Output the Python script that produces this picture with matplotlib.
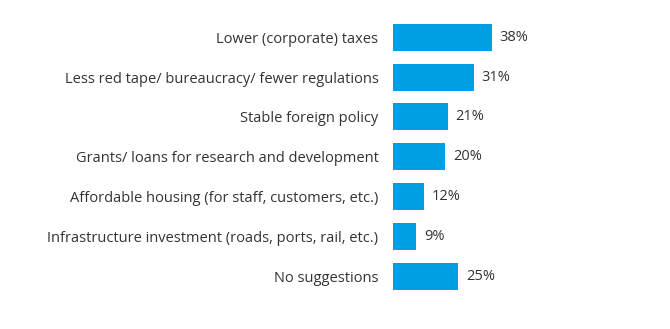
import matplotlib.pyplot as plt

# survey data
labels = ['Lower (corporate) taxes',
          'Less red tape/ bureaucracy/ fewer regulations',
          'Stable foreign policy',
          'Grants/ loans for research and development',
          'Affordable housing (for staff, customers, etc.)',
          'Infrastructure investment (roads, ports, rail, etc.)',
          'No suggestions']
values = [38, 31, 21, 20, 12, 9, 25]

plt.rcParams['font.family'] = ['Open Sans', 'DejaVu Sans']

fig = plt.figure(figsize=(6.7, 3.29), dpi=100)
ax = fig.add_axes([393/670, 1-296/329, 260/670, (296-17.5)/329])

y = range(len(values))
ax.barh(y, values, height=0.68, color='#009FE3')
ax.set_xlim(0, 100)
ax.set_ylim(len(values)-0.5, -0.5)

for i, v in enumerate(values):
    ax.text(v + 3, i, f'{v}%', va='center', ha='left', fontsize=10.5, color='#333333')

ax.set_yticks(list(y))
ax.set_yticklabels(labels, fontsize=10.5, color='#333333')
ax.tick_params(axis='y', length=0, pad=10.5)
ax.set_xticks([])
for s in ax.spines.values():
    s.set_visible(False)

fig.savefig('out.png', dpi=100)
